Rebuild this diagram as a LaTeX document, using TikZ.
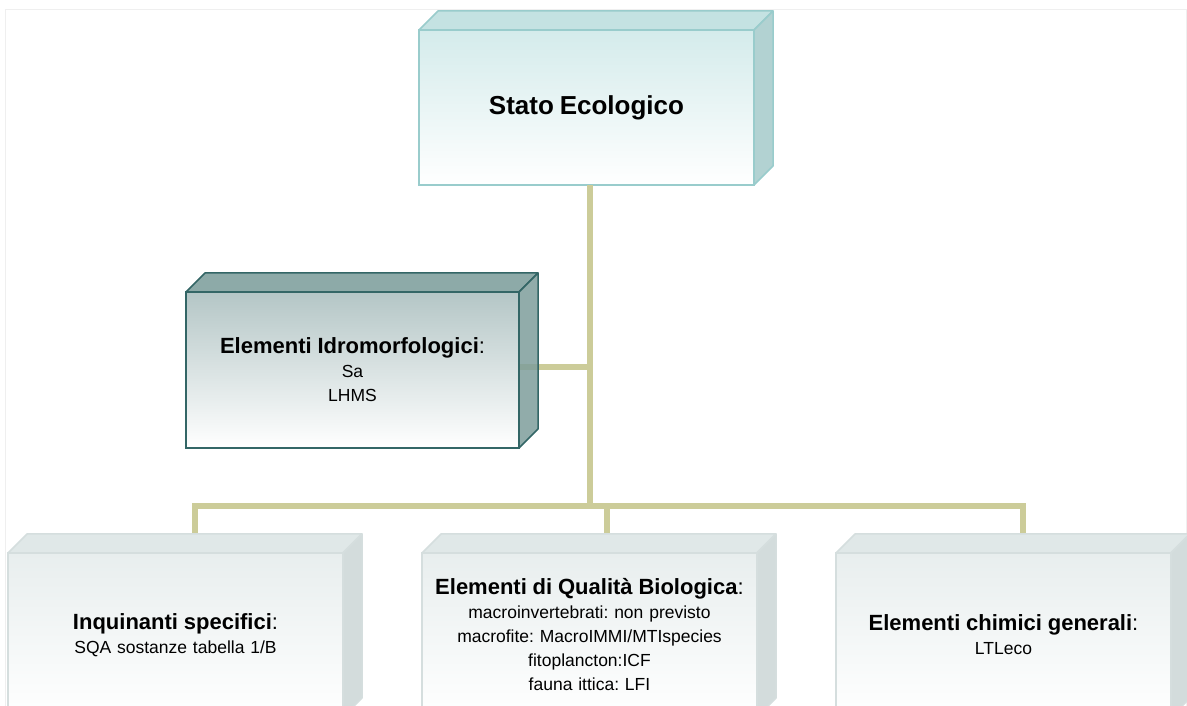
\documentclass[tikz,border=0pt]{standalone}
\usepackage{fontspec}
\setmainfont{Liberation Sans}
\usetikzlibrary{positioning,calc}
\definecolor{ecoline}{HTML}{99CCCC}
\definecolor{ecofront}{HTML}{D4EBEB}
\definecolor{ecotop}{HTML}{C4E2E2}
\definecolor{ecoside}{HTML}{B2D2D2}
\definecolor{idroline}{HTML}{336666}
\definecolor{idrofront}{HTML}{B4C6C6}
\definecolor{idrotop}{HTML}{8DAAA8}
\definecolor{idroside}{HTML}{7E9E9B}
\definecolor{elemline}{HTML}{D5DEDE}
\definecolor{elemfront}{HTML}{E8EEEE}
\definecolor{elemtop}{HTML}{E0E8E8}
\definecolor{elemside}{HTML}{D3DCDC}
\definecolor{linkcol}{HTML}{CCCC99}
\definecolor{framecol}{HTML}{EFEFEF}
\frenchspacing
\newcommand{\hdtxt}[1]{{\fontsize{22}{25}\selectfont\textbf{#1}:}}
\tikzset{
  %Define style for boxes
  box/.style={
    rectangle,
    inner sep=0pt,
    outer sep=0pt,
    line width=1.5pt,
    align=center,
    text width=325pt,
    font=\fontsize{17.5}{24}\selectfont},
  ecobox/.style={box, draw=ecoline, top color=ecofront, bottom color=white,
    minimum width=335pt, minimum height=155pt},
  idrobox/.style={box, draw=idroline, top color=idrofront, bottom color=white,
    minimum width=333pt, minimum height=156pt},
  elembox/.style={box, draw=elemline, top color=elemfront, bottom color=white,
    minimum width=335pt, minimum height=164pt},
  % Define style for the 3d faces
  face/.style={line width=1.5pt, line join=round},
  % Define connector style
  link/.style={line width=6pt, draw=linkcol}
}

\begin{document}
\begin{tikzpicture}[x=1pt,y=1pt,node distance=79pt]
  \clip (0,0) rectangle (1187,706);
  \draw[framecol, line width=1pt] (5,-20) -- (5,696) -- (1186,696) -- (1186,-20);

  \node[ecobox] (eco) at (586.5,598.5) {\fontsize{26}{30}\selectfont\bfseries Stato Ecologico};
  \node[idrobox] (idro) at (352.5,336) {\hdtxt{Elementi Idromorfologici}\\ Sa\\ LHMS};
  \node[elembox] (bio) at (589.5,71) {\hdtxt{Elementi di Qualità Biologica}\\
    macroinvertebrati: non previsto\\ macrofite: MacroIMMI/MTIspecies\\
    fitoplancton:ICF\\ fauna ittica: LFI};
  \node[elembox, left=of bio] (spec) {\hdtxt{Inquinanti specifici}\\ SQA sostanze tabella 1/B};
  \node[elembox, right=of bio] (chim) {\hdtxt{Elementi chimici generali}\\ LTLeco};

  % connectors
  \coordinate (hub) at ($(eco.south)+(3,-321)$);
  \coordinate (idrojoin) at ($(idro.east)+(0,3)$);
  \draw[link] (eco.south -| hub) -- (hub);
  \draw[link] (idrojoin) -- (idrojoin -| hub);
  \draw[link] ($(spec.north)+(19,19)$) |- (hub) -| ($(chim.north)+(19,19)$);
  \draw[link] ($(bio.north)+(17,19)$) |- (hub);

  % 3d faces
  \filldraw[face, draw=ecoline, fill=ecotop] (eco.north west) -- ++(19,19) -- ($(eco.north east)+(19,19)$) -- (eco.north east) -- cycle;
  \filldraw[face, draw=ecoline, fill=ecoside] (eco.north east) -- ++(19,19) -- ($(eco.south east)+(19,19)$) -- (eco.south east) -- cycle;
  \filldraw[face, draw=idroline, fill=idrotop] (idro.north west) -- ++(19,19) -- ($(idro.north east)+(19,19)$) -- (idro.north east) -- cycle;
  \filldraw[face, draw=idroline, fill=idroside, fill opacity=0.85] (idro.north east) -- ++(19,19) -- ($(idro.south east)+(19,19)$) -- (idro.south east) -- cycle;
  \filldraw[face, draw=elemline, fill=elemtop] (spec.north west) -- ++(19,19) -- ($(spec.north east)+(19,19)$) -- (spec.north east) -- cycle;
  \filldraw[face, draw=elemline, fill=elemside] (spec.north east) -- ++(19,19) -- ($(spec.south east)+(19,19)$) -- (spec.south east) -- cycle;
  \filldraw[face, draw=elemline, fill=elemtop] (bio.north west) -- ++(19,19) -- ($(bio.north east)+(19,19)$) -- (bio.north east) -- cycle;
  \filldraw[face, draw=elemline, fill=elemside] (bio.north east) -- ++(19,19) -- ($(bio.south east)+(19,19)$) -- (bio.south east) -- cycle;
  \filldraw[face, draw=elemline, fill=elemtop] (chim.north west) -- ++(19,19) -- ($(chim.north east)+(19,19)$) -- (chim.north east) -- cycle;
  \filldraw[face, draw=elemline, fill=elemside] (chim.north east) -- ++(19,19) -- ($(chim.south east)+(19,19)$) -- (chim.south east) -- cycle;
\end{tikzpicture}
\end{document}
